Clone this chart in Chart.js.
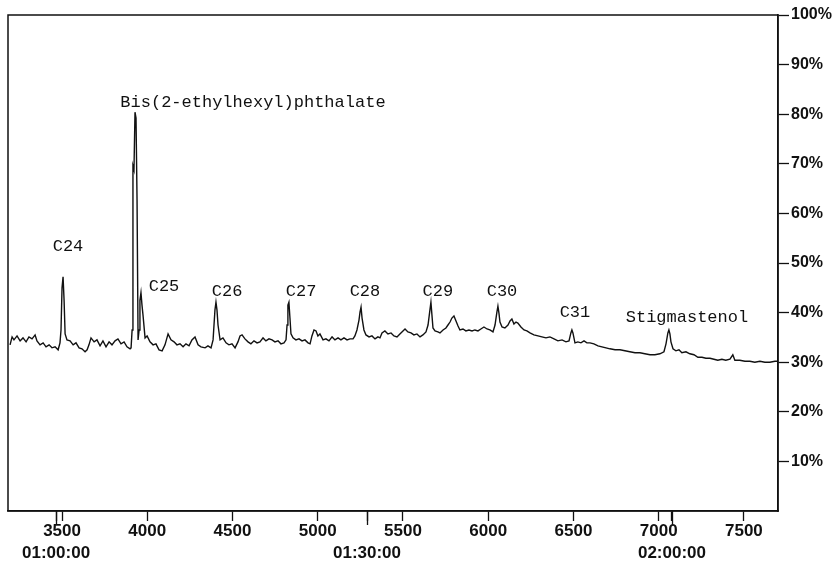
<!DOCTYPE html>
<html>
<head>
<meta charset="utf-8">
<script src="https://cdn.jsdelivr.net/npm/chart.js@4.4.0/dist/chart.umd.min.js"></script>
<style>
  html, body { margin: 0; padding: 0; background: #fff; }
  .wrap { width: 837px; height: 564px; }
</style>
</head>
<body>
<div class="wrap"><canvas id="myChart" width="837" height="564"></canvas></div>
<script>
// scan number of each trace point
const scans = [3195,3207,3218,3236,3254,3271,3289,3306,3324,3342,3353,3371,3389,3406,3424,3441,3459,3477,3488,3494,
  3500,3506,3512,3518,3529,3547,3565,3582,3600,3617,3635,3647,3658,3670,3688,3705,3723,3740,3758,3776,
  3793,3811,3828,3846,3864,3881,3899,3905,3911,3916,3922,3928,3934,3940,3946,3952,3957,3963,3969,3975,
  3987,3999,4016,4034,4051,4069,4087,4104,4122,4139,4157,4174,4192,4210,4227,4245,4262,4280,4298,4315,
  4339,4356,4374,4386,4397,4403,4409,4415,4427,4444,4462,4479,4497,4515,4532,4544,4556,4573,4591,4608,
  4626,4644,4661,4679,4696,4714,4732,4749,4767,4784,4802,4814,4820,4825,4831,4837,4843,4855,4872,4890,
  4908,4925,4943,4955,4966,4978,4990,5001,5013,5031,5048,5066,5084,5101,5119,5136,5154,5172,5189,5207,
  5218,5230,5242,5248,5254,5260,5271,5283,5301,5318,5336,5353,5365,5377,5394,5412,5430,5447,5465,5482,
  5500,5512,5529,5547,5564,5582,5600,5617,5635,5647,5658,5664,5670,5676,5688,5705,5717,5735,5752,5764,
  5776,5787,5799,5811,5823,5834,5852,5869,5887,5905,5922,5940,5957,5975,5993,6010,6028,6040,6051,6057,
  6063,6069,6081,6098,6116,6128,6139,6151,6163,6174,6192,6210,6227,6245,6268,6292,6315,6339,6362,6386,
  6409,6433,6456,6474,6485,6491,6497,6509,6526,6544,6562,6579,6597,6620,6644,6667,6691,6714,6744,6773,
  6802,6831,6861,6890,6919,6949,6978,7007,7031,7043,7054,7060,7066,7072,7084,7101,7119,7136,7160,7183,
  7207,7230,7254,7277,7301,7324,7347,7371,7394,7418,7435,7447,7476,7506,7535,7564,7594,7623,7652,7682,7699];

// relative abundance (%) at each scan
const abundance = [33.5,35.1,34.5,35.3,34.3,34.9,34.1,35.1,34.7,35.5,34.3,33.5,33.9,33.1,33.5,32.9,33.1,32.5,33.9,36.5,
  45.0,47.2,42.5,35.7,34.5,34.3,33.5,33.9,32.9,32.7,32.1,32.5,33.5,34.9,34.1,34.5,33.3,34.3,33.1,34.1,
  33.5,34.3,34.7,33.7,34.1,33.1,32.7,32.9,36.5,69.6,68.8,80.4,79.2,62.7,34.5,36.5,42.5,44.0,41.5,39.5,
  34.9,35.3,34.1,33.5,33.7,32.5,32.3,33.5,35.7,34.5,34.1,33.5,33.7,33.1,33.7,33.3,34.5,35.1,33.5,33.1,
  32.9,33.3,32.9,34.5,40.5,42.1,40.5,37.5,34.5,34.9,33.9,33.5,33.7,32.9,34.1,35.3,35.5,34.7,34.1,33.7,
  34.3,33.9,34.1,34.9,34.3,34.7,34.5,34.1,34.3,33.7,33.9,34.5,37.5,41.5,42.1,38.9,35.7,34.9,34.5,34.7,
  34.3,34.5,33.9,33.7,35.3,36.5,36.3,35.3,35.7,34.5,34.7,34.3,35.1,34.5,34.9,34.5,34.9,34.5,34.7,34.7,
  35.3,36.5,38.5,40.1,41.1,38.9,36.5,35.5,35.1,35.3,34.7,35.1,34.9,35.9,36.3,35.7,35.9,35.3,35.1,35.7,
  36.3,36.7,36.1,35.9,35.5,35.7,35.1,35.5,36.1,37.5,40.5,42.1,39.5,36.9,36.3,36.1,35.9,36.5,36.9,37.5,
  38.1,38.9,39.3,38.3,37.3,36.5,36.7,36.3,36.5,36.3,36.5,36.3,36.7,37.1,36.7,36.5,36.1,37.5,40.1,41.3,
  39.9,38.1,37.1,36.9,37.5,38.3,38.7,37.7,38.1,37.9,37.1,36.5,36.3,35.9,35.5,35.3,35.1,34.9,35.1,34.7,
  34.3,34.5,34.1,34.3,35.9,36.5,35.9,33.9,34.1,33.9,34.3,33.9,33.9,33.7,33.3,33.1,32.9,32.7,32.5,32.5,
  32.3,32.1,31.9,31.9,31.7,31.5,31.5,31.7,32.1,33.7,35.9,36.5,35.7,34.1,32.7,32.3,32.5,31.9,32.1,31.7,
  31.5,31.0,31.0,30.8,30.8,30.6,30.4,30.6,30.4,30.6,31.5,30.4,30.4,30.2,30.2,30.0,30.2,30.0,30.0,30.2,30.2];

const scanTicks = [3500, 4000, 4500, 5000, 5500, 6000, 6500, 7000, 7500];
const timeTicks = [3465, 5289, 7078];
const timeLabels = ['01:00:00', '01:30:00', '02:00:00'];
const pctTicks = [10, 20, 30, 40, 50, 60, 70, 80, 90, 100];

// peak names and where their text sits (scan, %)
const peakNames = ['Bis(2-ethylhexyl)phthalate', 'C24', 'C25', 'C26', 'C27', 'C28', 'C29', 'C30', 'C31', 'Stigmastenol'];
const peakLabelScan = [4620, 3535, 4098, 4468, 4902, 5277, 5705, 6081, 6509, 7166];
const peakLabelPct = [81.5, 52.4, 44.4, 43.3, 43.3, 43.3, 43.3, 43.3, 39.1, 38.1];

const ctx = document.getElementById('myChart');

const boxAndLabels = {
  id: 'boxAndLabels',
  afterDatasetsDraw(chart) {
    const c = chart.ctx, a = chart.chartArea;
    const xs = chart.scales.x, ys = chart.scales.y;
    c.save();
    c.strokeStyle = '#111';
    c.lineWidth = 1.5;
    c.strokeRect(a.left, a.top, a.right - a.left, a.bottom - a.top);
    // time marks reach a bit lower than the scan marks
    c.lineWidth = 1.3;
    timeTicks.forEach(t => {
      const px = Math.round(xs.getPixelForValue(t)) + 0.5;
      c.beginPath();
      c.moveTo(px, a.bottom);
      c.lineTo(px, a.bottom + 14);
      c.stroke();
    });
    c.fillStyle = '#111';
    c.font = '17px "Liberation Mono", monospace';
    c.textAlign = 'center';
    c.textBaseline = 'alphabetic';
    peakNames.forEach((name, i) => {
      c.fillText(name, xs.getPixelForValue(peakLabelScan[i]), ys.getPixelForValue(peakLabelPct[i]));
    });
    c.restore();
  }
};

new Chart(ctx, {
  type: 'line',
  data: {
    datasets: [{
      data: scans.map((s, i) => ({ x: s, y: abundance[i] })),
      borderColor: '#111',
      borderWidth: 1.4,
      pointRadius: 0,
      tension: 0,
      fill: false
    }]
  },
  options: {
    responsive: false,
    animation: false,
    layout: { padding: { left: 8, top: 15, right: 0, bottom: 0 } },
    plugins: { legend: { display: false }, tooltip: { enabled: false } },
    scales: {
      x: {
        type: 'linear',
        min: 3183,
        max: 7700,
        afterBuildTicks: (scale) => {
          scale.ticks = scanTicks.concat(timeTicks).sort((a, b) => a - b).map(v => ({ value: v }));
        },
        afterFit: (scale) => { scale.height = 53; },
        grid: { drawOnChartArea: false, drawTicks: true, tickLength: 10, tickColor: '#111', tickWidth: 1.3 },
        border: { display: true, color: '#111', width: 1.5 },
        ticks: {
          autoSkip: false,
          maxRotation: 0,
          padding: 0,
          color: '#111',
          font: { family: '"Liberation Sans", Arial, sans-serif', size: 17, weight: 'bold', lineHeight: 1.25 },
          callback: (v) => {
            const t = timeTicks.indexOf(v);
            return t >= 0 ? ['', timeLabels[t]] : String(v);
          }
        }
      },
      y: {
        position: 'right',
        min: 0,
        max: 100,
        afterBuildTicks: (scale) => {
          scale.ticks = pctTicks.map(v => ({ value: v }));
        },
        afterFit: (scale) => { scale.width = 59; },
        grid: { drawOnChartArea: false, drawTicks: true, tickLength: 11, tickColor: '#111', tickWidth: 1.3 },
        border: { display: true, color: '#111', width: 1.5 },
        ticks: {
          padding: 2,
          color: '#111',
          font: { family: '"Liberation Sans", Arial, sans-serif', size: 16, weight: 'bold' },
          callback: (v) => v + '%'
        }
      }
    }
  },
  plugins: [boxAndLabels]
});
</script>
</body>
</html>
